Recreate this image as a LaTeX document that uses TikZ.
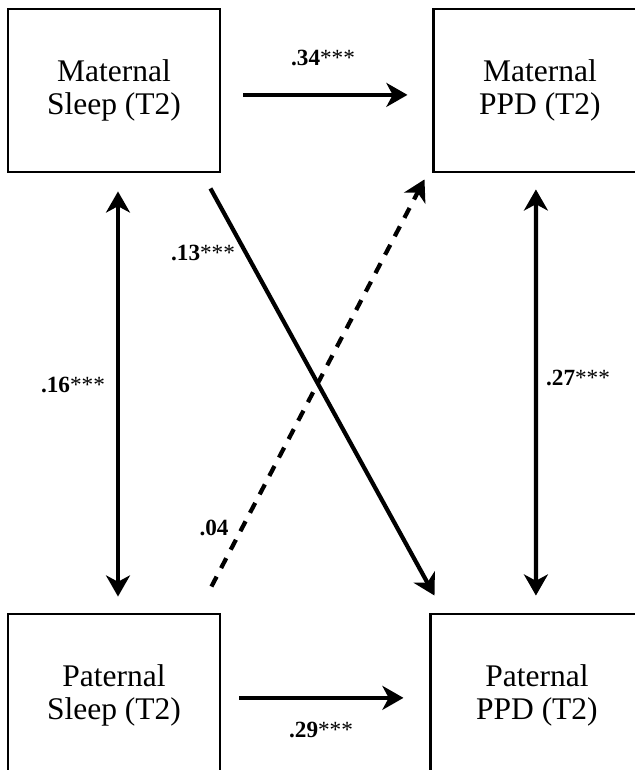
\documentclass[tikz,border=0pt]{standalone}
\usepackage{fontspec}
\setmainfont{Liberation Serif}
\newfontfamily\boxfont{Liberation Serif}
\usepackage{tikz}
\usetikzlibrary{arrows.meta, positioning, calc}

\begin{document}
\begin{tikzpicture}[
  x=0.025cm, y=-0.025cm,
  box/.style={rectangle, draw, line width=2pt, minimum width=5.3cm,
              minimum height=4.075cm, align=center,
              font=\boxfont\fontsize{22.4}{23.5}\selectfont},
  arr/.style={-{Stealth[length=15pt, width=17pt, inset=4.5pt]}, line width=3pt},
  dbl/.style={{Stealth[length=15pt, width=17pt, inset=4.5pt]}-{Stealth[length=15pt, width=17pt, inset=4.5pt]}, line width=3pt},
  coef/.style={inner sep=0pt, font=\boxfont\fontsize{16.5}{18}\selectfont},
]
  \clip (0,0) rectangle (635,770);

  \node[box] (ms) at (114,90.5) {Maternal\\Sleep (T2)};
  \node[box, right=5.275cm of ms] (mp) {Maternal\\PPD (T2)};
  \node[box, below=10.975cm of ms] (ps) {Paternal\\Sleep (T2)};
  \node[box, right=5.2cm of ps] (pp) {Paternal\\PPD (T2)};

  % paths between the boxes
  \draw[arr, shorten <=0.55cm, shorten >=0.625cm] ([yshift=-0.11cm]ms.east) -- ([yshift=-0.11cm]mp.west);
  \draw[arr, shorten <=0.45cm, shorten >=0.65cm] ([yshift=-0.06cm]ps.east) -- ([yshift=-0.06cm]pp.west);
  \draw[dbl, shorten <=0.45cm, shorten >=0.4cm] ([xshift=0.1cm]ms.south) -- ([xshift=0.1cm]ps.north);
  \draw[dbl, shorten <=0.4cm, shorten >=0.425cm] ([xshift=-0.1cm]mp.south) -- ([xshift=-0.025cm]pp.north);
  \draw[arr] ($(ms.south east)+(-11,15)$) -- ($(pp.north west)+(5,-17)$);
  \draw[arr, dash pattern=on 0.28cm off 0.24cm] ($(ps.north east)+(-10,-26)$) -- ($(mp.south west)+(-8,6)$);

  \node[coef] (c34) at (323,58)  {\textbf{.34}***};
  \node[coef] (c16) at (73,385)  {\textbf{.16}***};
  \node[coef] (c27) at (578,378) {\textbf{.27}***};
  \node[coef] (c13) at (203,253) {\textbf{.13}***};
  \node[coef] (c04) at (214,528) {\textbf{.04}};
  \node[coef] (c29) at (321,730) {\textbf{.29}***};
\end{tikzpicture}
\end{document}
